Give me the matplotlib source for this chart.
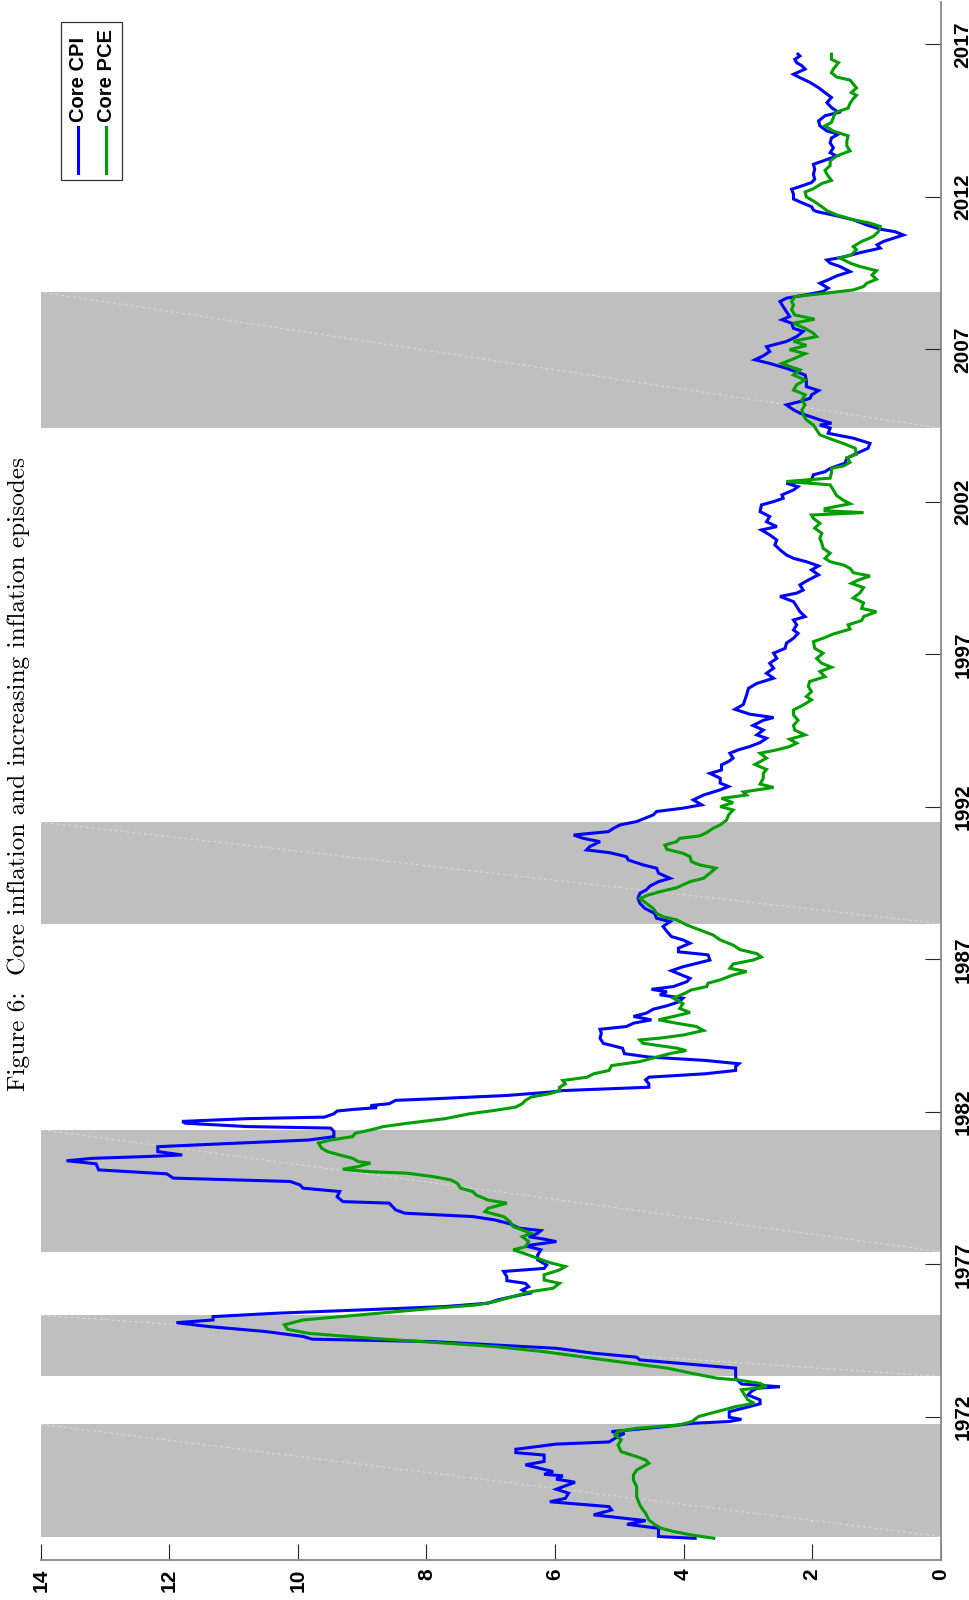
import matplotlib
matplotlib.use("Agg")
import matplotlib.pyplot as plt
from matplotlib.patches import Rectangle
from matplotlib.lines import Line2D

plt.rcParams["font.family"] = ["Liberation Sans", "DejaVu Sans"]

# Core CPI, year-over-year percent change (decimal year, percent)
cpi_dates = [
    1968.02, 1968.08, 1968.35, 1968.48, 1968.60, 1968.79, 1968.95, 1969.06, 1969.22, 1969.33,
    1969.50, 1969.63, 1969.86, 1969.96, 1970.07, 1970.12, 1970.21, 1970.43, 1970.54, 1970.75,
    1970.83, 1970.94, 1971.11, 1971.18, 1971.36, 1971.46, 1971.52, 1971.68, 1971.79, 1971.85,
    1971.92, 1971.99, 1972.17, 1972.43, 1972.56, 1972.72, 1972.83, 1972.94, 1972.99, 1973.08,
    1973.27, 1973.60, 1973.87, 1973.96, 1974.09, 1974.25, 1974.36, 1974.47, 1974.55, 1974.64,
    1974.80, 1974.96, 1975.09, 1975.18, 1975.29, 1975.40, 1975.51, 1975.62, 1975.73, 1975.84,
    1975.95, 1976.05, 1976.16, 1976.27, 1976.38, 1976.47, 1976.60, 1976.77, 1976.87, 1976.98,
    1977.15, 1977.31, 1977.48, 1977.61, 1977.75, 1977.83, 1977.91, 1978.02, 1978.11, 1978.19,
    1978.33, 1978.46, 1978.57, 1978.68, 1978.79, 1979.01, 1979.06, 1979.22, 1979.39, 1979.50,
    1979.61, 1979.72, 1979.83, 1979.97, 1980.10, 1980.30, 1980.40, 1980.48, 1980.54, 1980.59,
    1980.70, 1980.86, 1980.92, 1981.08, 1981.19, 1981.36, 1981.47, 1981.52, 1981.63, 1981.69,
    1981.78, 1981.83, 1981.94, 1982.03, 1982.08, 1982.14, 1982.21, 1982.27, 1982.38, 1982.43,
    1982.54, 1982.65, 1982.70, 1982.81, 1982.92, 1983.05, 1983.14, 1983.25, 1983.36, 1983.49,
    1983.58, 1983.69, 1983.80, 1983.91, 1984.09, 1984.25, 1984.42, 1984.58, 1984.71, 1984.80,
    1984.91, 1985.02, 1985.13, 1985.24, 1985.37, 1985.48, 1985.62, 1985.73, 1985.84, 1985.94,
    1986.02, 1986.11, 1986.27, 1986.38, 1986.49, 1986.63, 1986.76, 1986.87, 1986.98, 1987.15,
    1987.25, 1987.37, 1987.53, 1987.64, 1987.75, 1987.92, 1988.08, 1988.24, 1988.35, 1988.51,
    1988.67, 1988.84, 1989.00, 1989.17, 1989.28, 1989.41, 1989.55, 1989.66, 1989.83, 1989.99,
    1990.10, 1990.26, 1990.37, 1990.50, 1990.59, 1990.70, 1990.86, 1990.97, 1991.08, 1991.19,
    1991.30, 1991.41, 1991.52, 1991.63, 1991.74, 1991.85, 1991.96, 1992.07, 1992.23, 1992.39,
    1992.56, 1992.67, 1992.78, 1992.94, 1993.10, 1993.21, 1993.38, 1993.49, 1993.60, 1993.76,
    1993.87, 1993.98, 1994.11, 1994.25, 1994.36, 1994.52, 1994.67, 1994.84, 1994.93, 1995.04,
    1995.20, 1995.36, 1995.67, 1995.89, 1996.05, 1996.22, 1996.38, 1996.55, 1996.71, 1996.87,
    1997.04, 1997.20, 1997.37, 1997.53, 1997.69, 1997.80, 1997.97, 1998.13, 1998.24, 1998.40,
    1998.57, 1998.73, 1998.90, 1999.01, 1999.11, 1999.28, 1999.44, 1999.61, 1999.77, 1999.90,
    2000.04, 2000.15, 2000.26, 2000.43, 2000.59, 2000.75, 2000.92, 2001.08, 2001.19, 2001.35,
    2001.52, 2001.68, 2001.90, 2002.01, 2002.12, 2002.23, 2002.39, 2002.50, 2002.61, 2002.72,
    2002.89, 2002.99, 2003.10, 2003.27, 2003.43, 2003.54, 2003.76, 2003.92, 2004.09, 2004.25,
    2004.42, 2004.52, 2004.58, 2004.69, 2004.80, 2004.91, 2005.02, 2005.18, 2005.29, 2005.40,
    2005.51, 2005.65, 2005.78, 2006.00, 2006.16, 2006.38, 2006.54, 2006.66, 2006.79, 2006.93,
    2007.09, 2007.26, 2007.42, 2007.59, 2007.69, 2007.86, 2007.97, 2008.08, 2008.24, 2008.40,
    2008.57, 2008.68, 2008.79, 2008.90, 2009.01, 2009.17, 2009.28, 2009.41, 2009.55, 2009.72,
    2009.83, 2009.93, 2010.04, 2010.17, 2010.32, 2010.43, 2010.54, 2010.68, 2010.75, 2010.86,
    2010.94, 2011.08, 2011.25, 2011.38, 2011.52, 2011.57, 2011.68, 2011.81, 2011.93, 2012.09,
    2012.25, 2012.36, 2012.47, 2012.58, 2012.74, 2012.91, 2013.07, 2013.18, 2013.34, 2013.45,
    2013.61, 2013.77, 2013.93, 2014.06, 2014.16, 2014.33, 2014.49, 2014.66, 2014.77, 2014.93,
    2015.09, 2015.26, 2015.42, 2015.58, 2015.75, 2015.91, 2016.02, 2016.19, 2016.30, 2016.40,
    2016.51, 2016.62, 2016.68,
]
cpi_values = [
    3.82, 4.39, 4.39, 4.88, 4.59, 5.40, 5.12, 5.16, 6.08, 5.84,
    5.79, 5.98, 5.69, 5.98, 5.88, 6.17, 6.03, 6.46, 6.17, 6.17,
    6.61, 6.61, 5.98, 5.16, 5.02, 4.92, 5.12, 4.30, 3.87, 3.29,
    3.10, 3.29, 3.29, 2.81, 2.81, 3.00, 2.95, 2.86, 2.50, 3.10,
    3.19, 3.19, 4.68, 4.73, 5.40, 5.98, 6.94, 7.90, 9.78, 9.92,
    10.50, 11.37, 11.89, 11.32, 11.32, 10.35, 9.00, 7.71, 7.04, 6.89,
    6.65, 6.41, 6.51, 6.41, 6.46, 6.75, 6.75, 6.80, 6.17, 6.13,
    6.27, 6.27, 6.22, 6.46, 5.98, 6.17, 6.41, 6.27, 6.22, 6.56,
    6.70, 6.94, 7.28, 8.34, 8.48, 8.58, 9.30, 9.39, 9.35, 9.92,
    9.97, 10.12, 11.94, 12.04, 13.10, 13.14, 13.60, 13.19, 12.33, 11.80,
    12.18, 12.18, 11.56, 9.83, 9.44, 9.44, 9.49, 10.79, 11.75, 11.80,
    10.79, 9.59, 9.44, 9.39, 9.15, 8.77, 8.87, 8.58, 8.48, 7.90,
    6.75, 6.08, 5.88, 4.54, 4.54, 4.59, 4.54, 3.67, 3.19, 3.19,
    3.14, 3.67, 4.54, 4.92, 4.95, 5.25, 5.30, 5.28, 5.30, 4.89,
    4.78, 4.50, 4.78, 4.58, 4.47, 4.26, 4.06, 4.01, 4.37, 4.26,
    4.50, 4.16, 3.95, 3.90, 4.03, 4.19, 4.01, 3.80, 3.59, 3.62,
    4.08, 4.08, 3.90, 4.01, 4.19, 4.26, 4.32, 4.21, 4.42, 4.45,
    4.60, 4.68, 4.71, 4.68, 4.58, 4.52, 4.39, 4.21, 4.39, 4.42,
    4.63, 4.86, 4.89, 5.15, 5.51, 5.46, 5.30, 5.56, 5.71, 5.17,
    5.09, 4.99, 4.73, 4.60, 4.47, 4.42, 4.01, 3.72, 3.85, 3.69,
    3.43, 3.30, 3.43, 3.43, 3.59, 3.41, 3.41, 3.30, 3.23, 3.28,
    3.15, 2.97, 2.81, 2.71, 2.86, 2.76, 2.92, 2.76, 2.60, 2.97,
    3.20, 3.07, 3.02, 2.99, 2.86, 2.60, 2.71, 2.60, 2.66, 2.55,
    2.60, 2.42, 2.40, 2.29, 2.22, 2.29, 2.24, 2.29, 2.11, 2.19,
    2.24, 2.29, 2.50, 2.24, 2.14, 2.19, 2.06, 1.90, 2.01, 1.90,
    2.09, 2.29, 2.40, 2.50, 2.58, 2.55, 2.66, 2.79, 2.55, 2.71,
    2.66, 2.81, 2.79, 2.60, 2.45, 2.47, 2.29, 2.22, 2.40, 2.01,
    1.98, 1.80, 1.72, 1.49, 1.46, 1.36, 1.13, 1.10, 1.36, 1.75,
    1.72, 1.88, 1.70, 1.88, 2.03, 2.19, 2.29, 2.40, 2.19, 2.03,
    2.01, 1.90, 2.09, 2.09, 2.11, 2.40, 2.66, 2.89, 2.76, 2.66,
    2.71, 2.40, 2.24, 2.14, 2.29, 2.32, 2.47, 2.35, 2.40, 2.45,
    2.50, 2.40, 2.09, 1.83, 1.75, 1.88, 1.75, 1.62, 1.41, 1.57,
    1.72, 1.77, 1.49, 1.26, 0.94, 0.99, 0.89, 0.68, 0.58, 0.71,
    0.94, 1.15, 1.36, 1.62, 1.93, 1.98, 2.01, 2.16, 2.29, 2.29,
    2.32, 2.16, 2.01, 1.96, 1.98, 1.96, 1.98, 1.83, 1.62, 1.72,
    1.67, 1.72, 1.70, 1.59, 1.77, 1.88, 1.90, 1.80, 1.59, 1.70,
    1.77, 1.70, 1.80, 1.90, 2.03, 2.19, 2.29, 2.11, 2.16, 2.24,
    2.27, 2.19, 2.22,
]

# Core PCE price index, year-over-year percent change
pce_dates = [
    1968.02, 1968.13, 1968.24, 1968.35, 1968.46, 1968.62, 1968.84, 1968.95, 1969.11, 1969.39,
    1969.72, 1969.93, 1970.10, 1970.26, 1970.48, 1970.59, 1970.70, 1970.86, 1971.08, 1971.25,
    1971.41, 1971.52, 1971.63, 1971.74, 1971.85, 1972.01, 1972.12, 1972.23, 1972.34, 1972.45,
    1972.56, 1972.72, 1972.89, 1972.99, 1973.10, 1973.21, 1973.27, 1973.43, 1973.60, 1973.76,
    1973.92, 1974.14, 1974.31, 1974.42, 1974.58, 1974.74, 1974.87, 1975.02, 1975.18, 1975.34,
    1975.45, 1975.56, 1975.67, 1975.78, 1975.95, 1976.11, 1976.22, 1976.38, 1976.49, 1976.66,
    1976.82, 1976.93, 1977.06, 1977.20, 1977.31, 1977.48, 1977.58, 1977.75, 1977.91, 1978.02,
    1978.13, 1978.24, 1978.40, 1978.57, 1978.73, 1978.84, 1979.01, 1979.11, 1979.28, 1979.39,
    1979.50, 1979.66, 1979.77, 1979.88, 1979.99, 1980.04, 1980.12, 1980.21, 1980.32, 1980.37,
    1980.48, 1980.59, 1980.70, 1980.81, 1980.98, 1981.08, 1981.19, 1981.30, 1981.41, 1981.52,
    1981.63, 1981.78, 1981.94, 1982.05, 1982.16, 1982.27, 1982.38, 1982.49, 1982.60, 1982.70,
    1982.81, 1982.92, 1983.03, 1983.14, 1983.25, 1983.36, 1983.52, 1983.65, 1983.76, 1983.92,
    1984.01, 1984.09, 1984.25, 1984.36, 1984.42, 1984.52, 1984.67, 1984.80, 1984.91, 1985.02,
    1985.13, 1985.26, 1985.39, 1985.55, 1985.73, 1985.89, 1986.00, 1986.11, 1986.22, 1986.33,
    1986.49, 1986.60, 1986.71, 1986.85, 1986.98, 1987.08, 1987.19, 1987.32, 1987.47, 1987.64,
    1987.80, 1987.97, 1988.13, 1988.30, 1988.40, 1988.51, 1988.67, 1988.84, 1989.00, 1989.11,
    1989.22, 1989.35, 1989.55, 1989.66, 1989.83, 1989.99, 1990.10, 1990.21, 1990.37, 1990.48,
    1990.61, 1990.75, 1990.86, 1990.97, 1991.05, 1991.16, 1991.30, 1991.41, 1991.57, 1991.74,
    1991.90, 1992.01, 1992.14, 1992.28, 1992.39, 1992.49, 1992.64, 1992.75, 1992.94, 1993.10,
    1993.23, 1993.39, 1993.60, 1993.76, 1993.87, 1993.98, 1994.09, 1994.22, 1994.36, 1994.52,
    1994.67, 1994.84, 1995.02, 1995.18, 1995.34, 1995.51, 1995.62, 1995.78, 1995.95, 1996.11,
    1996.27, 1996.44, 1996.58, 1996.71, 1996.87, 1997.04, 1997.20, 1997.42, 1997.53, 1997.67,
    1997.83, 1997.97, 1998.11, 1998.24, 1998.40, 1998.51, 1998.69, 1998.85, 1999.01, 1999.19,
    1999.33, 1999.44, 1999.57, 1999.68, 1999.82, 1999.93, 2000.04, 2000.15, 2000.32, 2000.48,
    2000.65, 2000.81, 2000.97, 2001.14, 2001.30, 2001.46, 2001.57, 2001.65, 2001.71, 2001.78,
    2001.94, 2002.05, 2002.21, 2002.39, 2002.56, 2002.67, 2002.78, 2002.94, 2003.10, 2003.18,
    2003.30, 2003.45, 2003.56, 2003.76, 2003.92, 2004.03, 2004.20, 2004.36, 2004.52, 2004.69,
    2004.85, 2005.02, 2005.18, 2005.34, 2005.51, 2005.67, 2005.84, 2006.00, 2006.16, 2006.33,
    2006.44, 2006.54, 2006.69, 2006.86, 2006.99, 2007.13, 2007.27, 2007.42, 2007.53, 2007.69,
    2007.86, 2007.99, 2008.13, 2008.30, 2008.46, 2008.57, 2008.73, 2008.86, 2008.95, 2009.06,
    2009.17, 2009.30, 2009.44, 2009.58, 2009.72, 2009.83, 2010.00, 2010.10, 2010.27, 2010.37,
    2010.54, 2010.70, 2010.86, 2011.03, 2011.14, 2011.25, 2011.41, 2011.55, 2011.68, 2011.84,
    2012.00, 2012.16, 2012.27, 2012.44, 2012.54, 2012.74, 2012.87, 2013.03, 2013.18, 2013.34,
    2013.51, 2013.67, 2013.84, 2014.00, 2014.16, 2014.33, 2014.44, 2014.60, 2014.77, 2014.91,
    2015.07, 2015.22, 2015.33, 2015.42, 2015.57, 2015.70, 2015.83, 2015.93, 2016.07, 2016.19,
    2016.40, 2016.51, 2016.68,
]
pce_values = [
    3.53, 3.87, 4.15, 4.35, 4.44, 4.54, 4.59, 4.63, 4.68, 4.73,
    4.73, 4.78, 4.78, 4.73, 4.54, 4.59, 4.73, 4.97, 5.02, 4.97,
    5.07, 5.02, 4.73, 4.06, 3.87, 3.77, 3.58, 3.38, 3.19, 2.90,
    3.00, 3.05, 3.10, 2.71, 2.81, 3.14, 3.48, 3.87, 4.25, 4.83,
    5.40, 6.17, 6.94, 7.71, 8.87, 9.83, 10.16, 10.21, 9.92, 9.06,
    8.48, 7.90, 7.23, 6.94, 6.65, 6.37, 6.03, 5.93, 6.17, 6.17,
    5.93, 5.84, 6.08, 6.27, 6.41, 6.65, 6.46, 6.41, 6.51, 6.37,
    6.51, 6.65, 6.70, 6.80, 7.09, 7.04, 6.75, 7.04, 7.23, 7.28,
    7.47, 7.52, 7.62, 7.90, 8.29, 8.87, 9.30, 9.06, 8.87, 9.06,
    9.15, 9.35, 9.54, 9.63, 9.68, 9.49, 9.15, 9.11, 8.87, 8.67,
    8.29, 7.71, 7.33, 6.94, 6.61, 6.51, 6.46, 6.37, 6.08, 5.93,
    5.93, 5.84, 5.88, 5.50, 5.40, 5.16, 5.12, 4.68, 4.49, 4.20,
    3.96, 4.10, 4.63, 4.68, 4.37, 4.01, 3.69, 3.80, 4.11, 4.39,
    4.16, 3.90, 4.06, 4.01, 4.16, 3.98, 3.88, 3.64, 3.62, 3.43,
    3.23, 3.02, 3.28, 3.23, 2.92, 2.79, 2.86, 3.12, 3.23, 3.43,
    3.54, 3.75, 3.95, 4.11, 4.32, 4.42, 4.47, 4.58, 4.68, 4.55,
    4.37, 4.11, 3.90, 3.69, 3.59, 3.50, 3.75, 3.88, 3.90, 4.01,
    4.26, 4.29, 4.11, 4.06, 3.75, 3.64, 3.54, 3.43, 3.33, 3.30,
    3.23, 3.43, 3.23, 3.41, 3.02, 3.07, 2.60, 2.81, 2.76, 2.76,
    2.71, 2.89, 2.71, 2.81, 2.55, 2.35, 2.24, 2.35, 2.11, 2.27,
    2.29, 2.22, 2.29, 2.29, 2.14, 2.01, 2.09, 2.01, 2.06, 2.04,
    1.80, 1.88, 1.70, 1.85, 1.93, 1.83, 1.96, 1.98, 1.83, 1.67,
    1.41, 1.44, 1.23, 1.20, 1.00, 1.23, 1.20, 1.36, 1.26, 1.20,
    1.39, 1.28, 1.10, 1.36, 1.41, 1.51, 1.72, 1.80, 1.72, 1.83,
    1.85, 1.88, 1.85, 1.96, 1.88, 1.98, 2.01, 1.20, 1.80, 1.80,
    1.41, 1.51, 1.62, 1.67, 1.72, 2.40, 1.72, 1.70, 1.70, 1.51,
    1.41, 1.46, 1.31, 1.33, 1.52, 1.67, 1.88, 1.93, 1.98, 2.09,
    2.14, 2.16, 2.11, 2.16, 2.11, 2.29, 2.24, 2.11, 2.29, 2.19,
    2.35, 2.47, 2.29, 2.11, 2.35, 2.09, 2.29, 1.93, 1.98, 2.11,
    2.29, 1.96, 2.27, 2.32, 2.29, 2.32, 2.27, 1.72, 1.36, 1.20,
    1.15, 1.00, 1.07, 1.00, 1.26, 1.41, 1.57, 1.39, 1.31, 1.36,
    1.23, 1.05, 0.97, 0.94, 1.10, 1.36, 1.62, 1.77, 1.85, 1.96,
    2.09, 2.11, 1.98, 1.85, 1.70, 1.77, 1.80, 1.72, 1.72, 1.62,
    1.41, 1.46, 1.46, 1.44, 1.67, 1.80, 1.70, 1.67, 1.64, 1.44,
    1.41, 1.36, 1.31, 1.39, 1.31, 1.36, 1.41, 1.62, 1.70, 1.67,
    1.59, 1.70, 1.70,
]

# Increasing-inflation episodes (shaded)
episode_start = [1968.08, 1973.33, 1977.42, 1988.17, 2004.42]
episode_end = [1971.76, 1975.33, 1981.42, 1991.50, 2008.88]

year_ticks = [1972, 1977, 1982, 1987, 1992, 1997, 2002, 2007, 2012, 2017]
value_ticks = [0, 2, 4, 6, 8, 10, 12, 14]
series_labels = ["Core CPI", "Core PCE"]
title_text = "Figure 6:  Core inflation and increasing inflation episodes"

CPI_COLOR = "#0000ff"
PCE_COLOR = "#009e00"
BAND_COLOR = "#bfbfbf"
AXIS_GREY = "#8a8a8a"
TICK_FONT = dict(family=["Liberation Sans", "DejaVu Sans"], weight="bold", size=15)

W, H = 969, 1600
fig = plt.figure(figsize=(W / 100, H / 100), dpi=100)

# The page is turned sideways: inflation runs right-to-left, time runs upward.
ax_left, ax_right = 40.8 / W, 940.7 / W
ax_bottom, ax_top = 40.0 / H, 1598.0 / H
ax = fig.add_axes([ax_left, ax_bottom, ax_right - ax_left, ax_top - ax_bottom])
ax.set_xlim(14, 0)
ax.set_ylim(1967.31, 2018.39)

for s, e in zip(episode_start, episode_end):
    ax.axhspan(s, e, xmin=0, xmax=1, color=BAND_COLOR, lw=0, zorder=1)
    ax.plot([0, 14], [s, e], color="white", alpha=0.45, lw=0.7,
            dashes=(3, 3), zorder=1.5)

ax.plot(cpi_values, cpi_dates, color=CPI_COLOR, lw=2.2, zorder=3,
        solid_joinstyle="miter")
ax.plot(pce_values, pce_dates, color=PCE_COLOR, lw=2.2, zorder=4,
        solid_joinstyle="miter")

for side in ("left", "top"):
    ax.spines[side].set_visible(False)
for side in ("bottom", "right"):
    ax.spines[side].set_color(AXIS_GREY)
    ax.spines[side].set_linewidth(1.3)

ax.set_xticks(value_ticks)
ax.set_xticklabels([str(v) for v in value_ticks], rotation=90, **TICK_FONT)
ax.set_yticks(year_ticks)
ax.set_yticklabels([str(y) for y in year_ticks], rotation=90, **TICK_FONT)
ax.yaxis.tick_right()
ax.tick_params(axis="x", direction="in", length=11.5, width=0.8,
               color="#262626", pad=6)
ax.tick_params(axis="y", direction="in", length=11.5, width=0.8,
               color="#262626", pad=9, left=False, right=True,
               labelleft=False, labelright=True)
for lab in ax.get_yticklabels():
    lab.set_va("center")
    lab.set_ha("left")

# Legend built by hand so its entries can be turned with the page
def fx(px):
    return (px - 40.8) / (940.7 - 40.8)

def fy(py):
    return (1560.0 - py) / 1558.0

ax.add_patch(Rectangle((fx(61), fy(180)), fx(122) - fx(61), fy(22) - fy(180),
                       transform=ax.transAxes, facecolor="white",
                       edgecolor="#333333", lw=0.9, zorder=5))
for lx, tx, col, lab in [(77.7, 79.0, CPI_COLOR, series_labels[0]),
                         (105.7, 107.0, PCE_COLOR, series_labels[1])]:
    ax.add_line(Line2D([fx(lx), fx(lx)], [fy(173), fy(127)], color=col, lw=2.2,
                       transform=ax.transAxes, zorder=6))
    ax.text(fx(tx), fy(122), lab, transform=ax.transAxes, rotation=90,
            ha="center", va="bottom", zorder=6,
            family=["Liberation Sans", "DejaVu Sans"], weight="bold", size=14.5)

fig.text(19 / W, 1 - 774 / H, title_text, rotation=90, ha="center", va="center",
         family=["cmr10", "DejaVu Serif"], size=18.2)

fig.savefig("out.png", dpi=100)
